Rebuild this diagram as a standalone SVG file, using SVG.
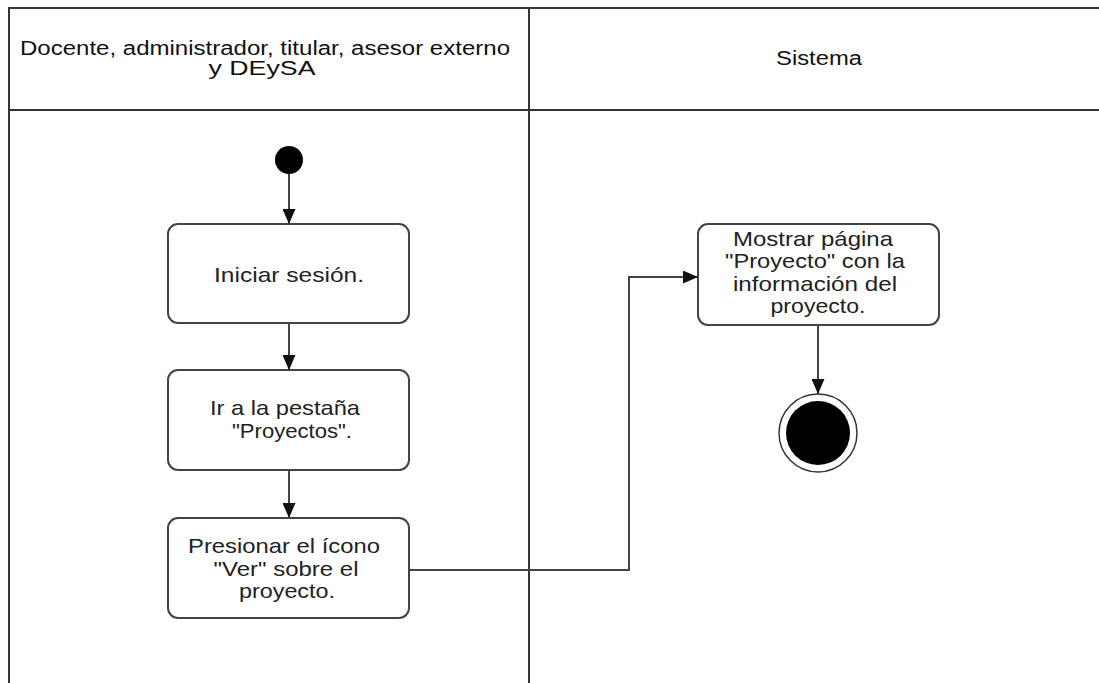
<svg xmlns="http://www.w3.org/2000/svg" width="1099" height="683" viewBox="0 0 1099 683">
<defs>
<style>
.lane{fill:none;stroke:#333;stroke-width:2}
.box{fill:#fff;stroke:#444;stroke-width:2}
.t{font-family:"Liberation Sans",Arial,sans-serif;font-size:21px;fill:#222;text-anchor:middle}
.h{font-family:"Liberation Sans",Arial,sans-serif;font-size:20px;fill:#111;text-anchor:middle}
.c{fill:none;stroke:#444;stroke-width:2}
</style>
<marker id="arr" viewBox="0 0 15 13" refX="15" refY="6.5" markerWidth="15" markerHeight="13" markerUnits="userSpaceOnUse" orient="auto">
<path d="M0,0 L15,6.5 L0,13 Z" fill="#111"/>
</marker>
</defs>
<rect width="1099" height="683" fill="#fff"/>
<g id="lanes">
<line class="lane" x1="8" y1="8" x2="1099" y2="8"/>
<line class="lane" x1="8" y1="110" x2="1099" y2="110"/>
<line class="lane" x1="9" y1="7" x2="9" y2="683"/>
<line class="lane" x1="529" y1="8" x2="529" y2="683"/>
<text class="h" x="265" y="55" textLength="490" lengthAdjust="spacingAndGlyphs">Docente, administrador, titular, asesor externo</text>
<text class="h" x="262" y="75" textLength="107" lengthAdjust="spacingAndGlyphs">y DEySA</text>
<text class="h" x="819" y="65" textLength="86" lengthAdjust="spacingAndGlyphs">Sistema</text>
</g>
<g id="start"><circle cx="289" cy="160" r="14" fill="#000"/></g>
<g id="n1"><rect class="box" x="168" y="224" width="241" height="99" rx="10"/><text class="t" x="289" y="282" textLength="150" lengthAdjust="spacingAndGlyphs">Iniciar sesión.</text></g>
<g id="n2"><rect class="box" x="168" y="370" width="241" height="100" rx="10"/><text class="t" x="285" y="415" textLength="150" lengthAdjust="spacingAndGlyphs">Ir a la pestaña</text><text class="t" x="292" y="438" textLength="120" lengthAdjust="spacingAndGlyphs">"Proyectos".</text></g>
<g id="n3"><rect class="box" x="168" y="518" width="241" height="100" rx="10"/><text class="t" x="284" y="553" textLength="192" lengthAdjust="spacingAndGlyphs">Presionar el ícono</text><text class="t" x="286" y="576" textLength="145" lengthAdjust="spacingAndGlyphs">"Ver" sobre el</text><text class="t" x="287" y="598" textLength="96" lengthAdjust="spacingAndGlyphs">proyecto.</text></g>
<g id="n4"><rect class="box" x="698" y="224" width="241" height="101" rx="10"/><text class="t" x="813" y="246" textLength="160" lengthAdjust="spacingAndGlyphs">Mostrar página</text><text class="t" x="815" y="268" textLength="180" lengthAdjust="spacingAndGlyphs">"Proyecto" con la</text><text class="t" x="815" y="291" textLength="164" lengthAdjust="spacingAndGlyphs">información del</text><text class="t" x="818" y="313" textLength="95" lengthAdjust="spacingAndGlyphs">proyecto.</text></g>
<g id="end"><circle cx="818" cy="433" r="39" fill="#fff" stroke="#333" stroke-width="1.5"/><circle cx="818" cy="433" r="32" fill="#000"/></g>
<g id="connectors">
<line class="c" x1="289" y1="174" x2="289" y2="224" marker-end="url(#arr)"/>
<line class="c" x1="289" y1="323" x2="289" y2="370" marker-end="url(#arr)"/>
<line class="c" x1="289" y1="470" x2="289" y2="518" marker-end="url(#arr)"/>
<polyline class="c" points="409,570 629,570 629,277 698,277" marker-end="url(#arr)"/>
<line class="c" x1="818" y1="325" x2="818" y2="394" marker-end="url(#arr)"/>
</g>
</svg>
